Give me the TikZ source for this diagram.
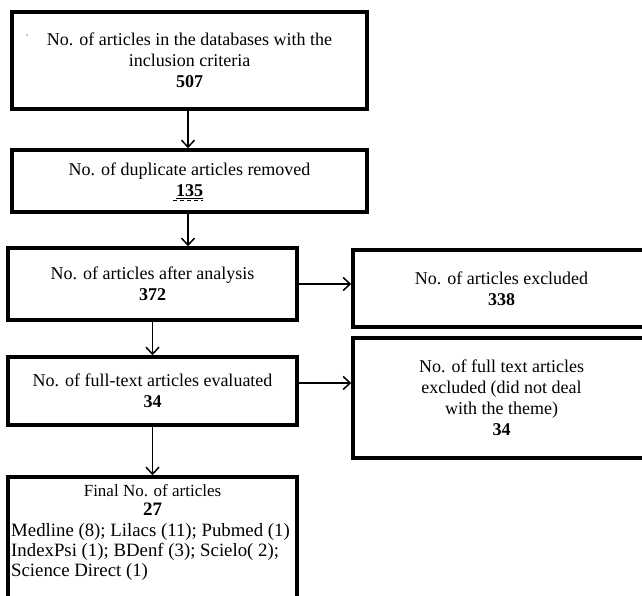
\documentclass[tikz,border=0pt]{standalone}
\usepackage{fontspec}
\setmainfont{Liberation Serif}
\usetikzlibrary{arrows.meta}
\begin{document}
\begin{tikzpicture}[x=1pt,y=-1pt,
  box/.style={draw, line width=3.5pt, rectangle, align=center, inner sep=0pt,
    font=\fontsize{18}{21}\selectfont},
  arr/.style={line width=1.5pt, -{Straight Barb[length=7pt,width=13pt,line width=1.5pt]}},
  txt/.style={inner sep=0pt, anchor=base},
  ltxt/.style={inner sep=0pt, anchor=base west, font=\fontsize{18.8}{20}\selectfont}]
\useasboundingbox (0,0) rectangle (642,596);
\node[box, minimum width=355pt, minimum height=97pt] (b1) at (189.5,60.5)
  {No. of articles in the databases with the\\inclusion criteria\\\textbf{507}};
\node[box, minimum width=355pt, minimum height=62pt] (b2) at (189.5,181)
  {No. of duplicate articles removed\\\underline{\textbf{135}}};
\node[box, minimum width=289pt, minimum height=72pt] (b3) at (152.5,284)
  {No. of articles after analysis\\\textbf{372}};
\node[box, minimum width=289pt, minimum height=68pt] (b4) at (152.5,391)
  {No. of full-text articles evaluated\\\textbf{34}};
\node[box, minimum width=297pt, minimum height=77pt] (r1) at (501.5,288.5)
  {No. of articles excluded\\\textbf{338}};
\node[box, minimum width=297pt, minimum height=120pt] (r2) at (501.5,398)
  {No. of full text articles\\excluded (did not deal\\with the theme)\\\textbf{34}};
\node[box, minimum width=289pt, minimum height=143pt] (b5) at (152.5,548.5) {};
\node[txt, font=\fontsize{17}{20}\selectfont] (t5) at (152.5,496) {Final No. of articles};
\node[txt, font=\fontsize{19}{20}\selectfont\bfseries] (t5n) at (152.5,515) {27};
\node[ltxt] (t6) at (11,536) {Medline (8); Lilacs (11); Pubmed (1)};
\node[ltxt] (t7) at (11,556) {IndexPsi (1); BDenf (3); Scielo( 2);};
\node[ltxt] (t8) at (11,576) {Science Direct (1)};
\fill (27,35) circle (0.6pt);
\draw[dashed, line width=1pt, dash pattern=on 4pt off 3pt] (173,200) -- (203,200);
\draw[arr] (b1.south -| 188,0) -- (b2.north -| 188,0);
\draw[arr] (b2.south -| 188,0) -- (b3.north -| 188,0);
\draw[arr] (b3.south) -- (b4.north);
\draw[arr] (b4.south) -- (b5.north);
\draw[arr] (b3.east) -- (r1.west |- b3.east);
\coordinate (c4) at ([yshift=8pt]b4.east);
\draw[arr] (c4) -- (r2.west |- c4);
\end{tikzpicture}
\end{document}
